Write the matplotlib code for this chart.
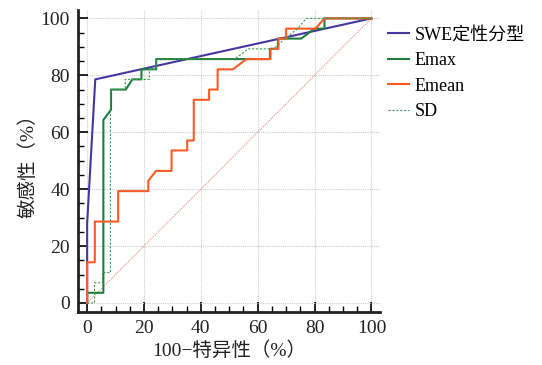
import matplotlib
matplotlib.use("Agg")
import matplotlib.pyplot as plt
from matplotlib.ticker import MultipleLocator

plt.rcParams['font.family'] = ['Liberation Serif', 'Noto Sans CJK SC']

# --- ROC curve data (100-specificity, sensitivity) ---
swe_x = [0, 0, 2.86, 100]
swe_y = [0, 28, 78.57, 100]

emax_x = [0, 0, 5.71, 5.71, 8.4, 8.4, 13.6, 15.9, 19.1, 19.1, 24.3, 24.3,
          64.3, 64.3, 67.1, 67.1, 75.3, 80.0, 83.5, 83.5, 100]
emax_y = [0, 3.57, 3.57, 64.3, 67.9, 75.0, 75.0, 78.57, 78.57, 82.1, 82.1, 85.7,
          85.7, 89.3, 89.3, 92.9, 92.9, 96.4, 96.4, 100, 100]

emean_x = [0, 0, 2.7, 2.7, 10.9, 10.9, 21.5, 21.5, 24.2, 29.7, 29.7, 35.2, 35.2,
           37.5, 37.5, 42.9, 42.9, 45.9, 45.9, 51.3, 56.0, 64.5, 64.5, 67.3,
           67.3, 70.0, 70.0, 80.3, 83.5, 100]
emean_y = [0, 14.3, 14.3, 28.6, 28.6, 39.3, 39.3, 42.9, 46.4, 46.4, 53.6, 53.6, 57.1,
           57.1, 71.4, 71.4, 75.0, 75.0, 82.1, 82.1, 85.7, 85.7, 89.3, 89.3,
           92.9, 92.9, 96.4, 96.4, 100, 100]

sd_x = [0, 2.6, 2.6, 5.4, 5.4, 8.2, 8.2, 13.4, 13.4, 21.9, 21.9, 24.3, 24.3,
        51.9, 56.6, 65.5, 71.0, 74.0, 77.1, 100]
sd_y = [0, 0, 7.1, 7.1, 10.7, 10.7, 75.0, 75.0, 78.57, 78.57, 82.1, 82.1, 85.7,
        85.7, 89.3, 89.3, 94.0, 96.4, 100, 100]

ref_x = [0, 100]
ref_y = [0, 100]

labels = ['SWE定性分型', 'Emax', 'Emean', 'SD']

# --- Plotting ---
fig = plt.figure(figsize=(5.42, 3.65), dpi=100)
ax = fig.add_axes([0.144, 0.145, 0.557, 0.828])

ax.plot(ref_x, ref_y, color='#d9977c', linestyle=(0, (1, 1)), linewidth=0.8)
l1, = ax.plot(swe_x, swe_y, color='#4338a0', linewidth=1.5)
l2, = ax.plot(emax_x, emax_y, color='#1c7d3c', linewidth=1.5)
l3, = ax.plot(emean_x, emean_y, color='#ff5a26', linewidth=1.5)
l4, = ax.plot(sd_x, sd_y, color='#3f9a55', linestyle=(0, (2, 1.5)), linewidth=0.8)

ax.set_xlim(-3.2, 103)
ax.set_ylim(-3.2, 103)
ax.xaxis.set_major_locator(MultipleLocator(20))
ax.yaxis.set_major_locator(MultipleLocator(20))
ax.xaxis.set_minor_locator(MultipleLocator(5))
ax.yaxis.set_minor_locator(MultipleLocator(5))
ax.tick_params(which='major', direction='in', length=7, width=1.2,
               labelsize=14, labelcolor='#222222', pad=6)
ax.tick_params(which='minor', direction='in', length=4, width=1.0)

for side in ['top', 'right']:
    ax.spines[side].set_visible(False)
for side in ['left', 'bottom']:
    ax.spines[side].set_linewidth(2)
    ax.spines[side].set_color('#222222')

ax.grid(True, which='major', color='#cccccc', linestyle=(0, (1, 1)), linewidth=0.8)
ax.set_axisbelow(True)

ax.set_xlabel('100−特异性（%）', fontsize=14, color='#222222', labelpad=3)
ax.set_ylabel('敏感性（%）', fontsize=14, color='#222222', labelpad=2)

fig.legend([l1, l2, l3, l4], labels, loc='upper left',
           bbox_to_anchor=(0.685, 0.972), frameon=False, fontsize=13,
           handlelength=1.2, handletextpad=0.3, labelspacing=0.48)

fig.savefig('out.png', dpi=100)
